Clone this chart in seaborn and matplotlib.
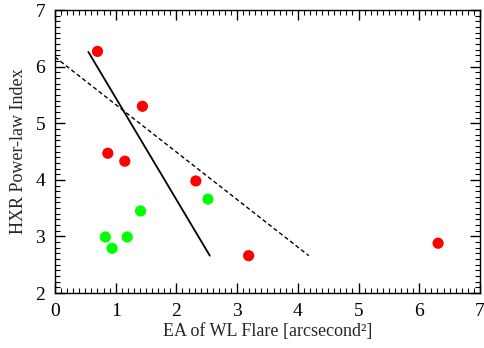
import matplotlib
matplotlib.use("Agg")
import matplotlib.pyplot as plt
import pandas as pd
import seaborn as sns
from matplotlib.ticker import MultipleLocator

# red events
red_x = [0.70, 1.44, 0.87, 1.15, 2.32, 3.19, 6.31]
red_y = [6.27, 5.30, 4.47, 4.33, 3.98, 2.66, 2.88]
# green events
green_x = [0.83, 0.94, 1.19, 1.41, 2.52]
green_y = [2.99, 2.79, 2.99, 3.45, 3.66]
# fitted lines (end points)
solid_x = [0.55, 2.55]
solid_y = [6.26, 2.66]
dashed_x = [0.0, 4.18]
dashed_y = [6.17, 2.66]

sns.set_style("ticks")
plt.rcParams.update({
    "font.family": "serif",
    "font.serif": ["Liberation Serif", "DejaVu Serif"],
    "font.size": 13,
    "axes.linewidth": 1.0,
    "axes.edgecolor": "black",
    "xtick.color": "black",
    "ytick.color": "black",
})

fig = plt.figure(figsize=(4.84, 3.48), dpi=100)
ax = fig.add_axes([0.1136, 0.158, 0.8781, 0.813])

red = pd.DataFrame({"x": red_x, "y": red_y})
green = pd.DataFrame({"x": green_x, "y": green_y})
sns.scatterplot(data=red, x="x", y="y", color="#ff0000", s=65, edgecolor="none", ax=ax, zorder=3)
sns.scatterplot(data=green, x="x", y="y", color="#00ff00", s=65, edgecolor="none", ax=ax, zorder=3)

sns.lineplot(x=solid_x, y=solid_y, color="black", linewidth=1.3, ax=ax)
sns.lineplot(x=dashed_x, y=dashed_y, color="black", linewidth=1.0, ax=ax)
ax.lines[-1].set_dashes((3, 2))

ax.set_xlim(0, 7)
ax.set_ylim(2, 7)
ax.xaxis.set_major_locator(MultipleLocator(1))
ax.xaxis.set_minor_locator(MultipleLocator(0.1))
ax.yaxis.set_major_locator(MultipleLocator(1))
ax.yaxis.set_minor_locator(MultipleLocator(0.1))
ax.tick_params(which="both", direction="in", top=True, right=True, labelsize=14)
ax.tick_params(which="major", length=7, width=1, pad=7)
ax.tick_params(which="minor", length=3.5, width=0.8)
for s in ax.spines.values():
    s.set_visible(True)

ax.set_xlabel("EA of WL Flare [arcsecond²]", fontsize=13, labelpad=2)
ax.set_ylabel("HXR Power-law Index", fontsize=13, labelpad=6)

fig.savefig("out.png", dpi=100)
